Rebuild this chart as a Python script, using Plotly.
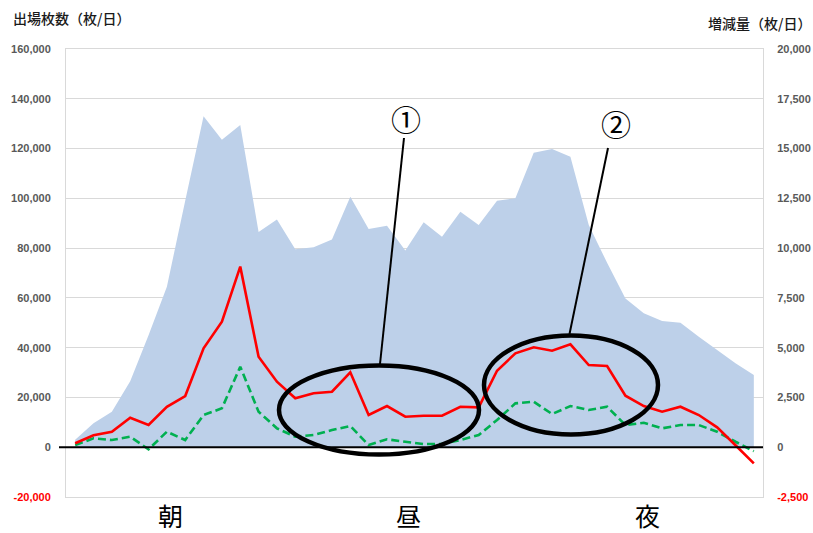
import plotly.graph_objects as go

# ---- data ----
slots = [str(i + 1) for i in range(38)]

issued = [3000, 9600, 14300, 26500, 45000, 64500, 99000, 133000, 123500, 129500,
          86500, 91500, 79500, 80300, 83500, 100600, 87700, 89000, 79000, 90400,
          84600, 94600, 89300, 99000, 100000, 118300, 119800, 116700, 89300, 74100,
          59800, 53800, 50700, 50000, 44400, 39000, 33700, 29000]

change_red = [200, 600, 780, 1480, 1115, 2030, 2570, 4970, 6300, 9070,
              4545, 3290, 2456, 2707, 2787, 3761, 1617, 2069, 1532, 1582,
              1582, 2034, 2000, 3842, 4716, 5017, 4846, 5168, 4128, 4078,
              2586, 2069, 1783, 2034, 1617, 1000, 100, -809]

change_green = [110, 447, 362, 527, -105, 778, 362, 1617, 1954, 4043,
                1783, 949, 527, 613, 864, 1065, 110, 397, 276, 161,
                161, 362, 613, 1366, 2203, 2285, 1667, 2069, 1868, 2034,
                1115, 1230, 949, 1115, 1115, 778, 276, -200]

left_ticks = list(range(-20000, 160001, 20000))
right_ticks = list(range(-2500, 20001, 2500))
period_labels = ["朝", "昼", "夜"]
left_title = "出場枚数（枚/日）"
right_title = "増減量（枚/日）"

# ---- layout geometry (pixels) ----
W, H = 813, 533
PL, PR, PT, PB = 66, 763, 49, 497


def fx(px):
    return (px - PL) / (PR - PL)


def fy(py):
    return (PB - py) / (PB - PT)


def fmt(v, red):
    s = f"{v:,}"
    if red:
        return f"<span style='color:#FF0000'>{s}</span>"
    return s


fig = go.Figure()
fig.add_trace(go.Scatter(
    x=slots, y=issued, mode="lines", fill="tozeroy",
    line=dict(width=0, color="#BDD0E9"), fillcolor="#BDD0E9",
    yaxis="y", hoverinfo="skip", showlegend=False))
fig.add_trace(go.Scatter(
    x=slots, y=change_green, mode="lines",
    line=dict(width=2.6, color="#00B050", dash="8px,4px"),
    yaxis="y2", showlegend=False))
fig.add_trace(go.Scatter(
    x=slots, y=change_red, mode="lines",
    line=dict(width=2.6, color="#FF0000"),
    yaxis="y2", showlegend=False))

tickfont = dict(family="Liberation Sans, Arial, sans-serif", size=11,
                color="#595959", weight="bold")

fig.update_layout(
    width=W, height=H,
    margin=dict(l=PL, r=W - PR, t=PT, b=H - PB, pad=0),
    paper_bgcolor="white", plot_bgcolor="white",
    showlegend=False,
    xaxis=dict(type="category", range=[-0.5, 37.5], showticklabels=False,
               showgrid=False, zeroline=False, ticks="",
               showline=True, linecolor="#D9D9D9", linewidth=1, mirror=True),
    yaxis=dict(range=[-20000, 160000], tickvals=left_ticks,
               ticktext=[fmt(v, v < 0) for v in left_ticks],
               tickfont=tickfont, ticks="", ticklabelstandoff=12,
               showgrid=True, gridcolor="#D9D9D9", gridwidth=1,
               zeroline=False, showline=True, linecolor="#D9D9D9", linewidth=1,
               automargin=False),
    yaxis2=dict(range=[-2500, 20000], tickvals=right_ticks,
                ticktext=[fmt(v, v < 0) for v in right_ticks],
                tickfont=tickfont, ticks="", ticklabelstandoff=11,
                overlaying="y", side="right", showgrid=False,
                zeroline=False, showline=True, linecolor="#D9D9D9", linewidth=1,
                automargin=False),
)

shapes = []
# zero axis line
shapes.append(dict(type="line", xref="paper", yref="y", x0=fx(59), x1=fx(763),
                   y0=0, y1=0, line=dict(color="#000000", width=2), layer="above"))
# ellipses
shapes.append(dict(type="circle", xref="paper", yref="paper",
                   x0=fx(279), x1=fx(479), y0=fy(454.5), y1=fy(365.5),
                   line=dict(color="#000000", width=4.5), layer="above"))
shapes.append(dict(type="circle", xref="paper", yref="paper",
                   x0=fx(484), x1=fx(658), y0=fy(434.5), y1=fy(335.5),
                   line=dict(color="#000000", width=4.5), layer="above"))
# pointer lines
shapes.append(dict(type="line", xref="paper", yref="paper",
                   x0=fx(404), y0=fy(138), x1=fx(380), y1=fy(364),
                   line=dict(color="#000000", width=2), layer="above"))
shapes.append(dict(type="line", xref="paper", yref="paper",
                   x0=fx(608), y0=fy(148), x1=fx(569.5), y1=fy(334),
                   line=dict(color="#000000", width=2), layer="above"))
fig.update_layout(shapes=shapes)

cjk = "Noto Sans CJK JP, sans-serif"
ann = []
ann.append(dict(text=left_title, xref="paper", yref="paper", x=fx(11), y=fy(18),
                xanchor="left", yanchor="middle", showarrow=False,
                font=dict(family=cjk, size=14, color="#1a1a1a", weight=500)))
ann.append(dict(text=right_title, xref="paper", yref="paper", x=fx(813), y=fy(23),
                xanchor="right", yanchor="middle", showarrow=False,
                font=dict(family=cjk, size=14, color="#1a1a1a", weight=500)))
for lab, cx in zip(period_labels, [170, 408, 647]):
    ann.append(dict(text=lab, xref="paper", yref="paper", x=fx(cx), y=fy(515),
                    xanchor="center", yanchor="middle", showarrow=False,
                    font=dict(family=cjk, size=25, color="#000000")))
for lab, cx, cy in [("①", 405.5, 117.5), ("②", 616, 122.5)]:
    ann.append(dict(text=lab, xref="paper", yref="paper", x=fx(cx), y=fy(cy),
                    xanchor="center", yanchor="middle", showarrow=False,
                    font=dict(family=cjk, size=30, color="#000000")))
fig.update_layout(annotations=ann)

fig.write_html("out.html",
               config={"displayModeBar": False},
               post_script="document.body.style.margin='0';"
                           "document.body.style.overflow='hidden';")
